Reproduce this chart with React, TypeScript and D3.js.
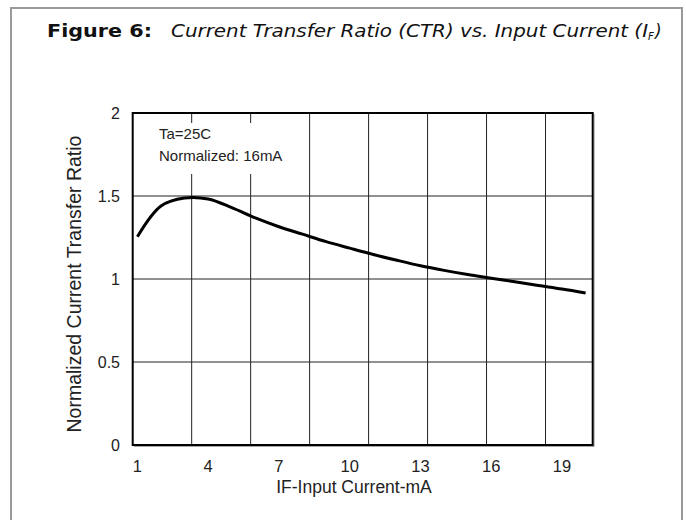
import React from 'react';
import * as d3 from 'd3';

// values
const inputCurrent = [1, 2, 3, 4, 5, 6, 7, 8, 9, 10, 11, 12, 13, 14, 15, 16, 17, 18, 19, 20];
const ctrValues = [
  1.255, 1.44, 1.488, 1.482, 1.43, 1.368, 1.315, 1.27, 1.225, 1.186,
  1.148, 1.113, 1.08, 1.052, 1.027, 1.005, 0.983, 0.961, 0.94, 0.916,
];
const xTickValues = [1, 4, 7, 10, 13, 16, 19];
const yTickValues = [0, 0.5, 1, 1.5, 2];
const yTickLabels = ['0', '0.5', '1', '1.5', '2'];
const xGridValues = [3.3, 5.8, 8.3, 10.8, 13.3, 15.8, 18.3];
const notes = ['Ta=25C', 'Normalized: 16mA'];

const W = 686;
const H = 520;
const plot = { left: 132.7, right: 592.7, top: 113, bottom: 445 };
const font = '"Liberation Sans", Arial, sans-serif';
const titleFont = '"DejaVu Sans", Verdana, sans-serif';

export default function App() {
  const x = d3.scaleLinear().domain([0.8, 20.3]).range([plot.left, plot.right]);
  const y = d3.scaleLinear().domain([0, 2]).range([plot.bottom, plot.top]);

  const line = d3
    .line<number>()
    .x((_, i) => x(inputCurrent[i]))
    .y((d) => y(d))
    .curve(d3.curveCatmullRom.alpha(0.5));

  const pw = plot.right - plot.left;
  const ph = plot.bottom - plot.top;

  return (
    <svg
      width={W}
      height={H}
      style={{ position: 'absolute', left: 0, top: 0, background: '#fff' }}
    >
      {/* outer frame */}
      <rect x={11} y={8} width={671} height={530} fill="none" stroke="#9a9a9a" strokeWidth={2} />

      {/* title */}
      <text
        x={47}
        y={37}
        fontFamily={titleFont}
        fontWeight="bold"
        fontSize={17}
        textLength={105}
        lengthAdjust="spacingAndGlyphs"
        fill="#111"
      >
        Figure 6:
      </text>
      <text
        x={171}
        y={37}
        fontFamily={titleFont}
        fontStyle="italic"
        fontSize={17}
        textLength={477}
        lengthAdjust="spacingAndGlyphs"
        fill="#111"
      >
        Current Transfer Ratio (CTR) vs. Input Current (I
      </text>
      <text x={648} y={40} fontFamily={titleFont} fontStyle="italic" fontSize={10} fill="#111">
        F
      </text>
      <text x={655} y={37} fontFamily={titleFont} fontStyle="italic" fontSize={17} fill="#111">
        )
      </text>

      {/* plot shadow + area */}
      <rect x={plot.left + 1.5} y={plot.top + 1.5} width={pw} height={ph} fill="none" stroke="#aaa" strokeWidth={1} />
      <rect x={plot.left} y={plot.top} width={pw} height={ph} fill="#fff" />

      {/* grid */}
      {xGridValues.map((v) => (
        <line key={'gx' + v} x1={x(v)} x2={x(v)} y1={plot.top} y2={plot.bottom} stroke="#222" strokeWidth={1} />
      ))}
      {yTickValues.slice(1, -1).map((v) => (
        <line key={'gy' + v} x1={plot.left} x2={plot.right} y1={y(v)} y2={y(v)} stroke="#222" strokeWidth={1} />
      ))}

      {/* frame */}
      <rect x={plot.left} y={plot.top} width={pw} height={ph} fill="none" stroke="#000" strokeWidth={2} />

      {/* curve */}
      <path d={line(ctrValues) || ''} fill="none" stroke="#000" strokeWidth={3} strokeLinejoin="round" />

      {/* annotation box covers the grid */}
      <rect x={150} y={123} width={148} height={51} fill="#fff" />
      {notes.map((n, i) => (
        <text key={n} x={159} y={139 + i * 21.5} fontFamily={font} fontSize={15} fill="#222">
          {n}
        </text>
      ))}

      {/* y ticks */}
      {yTickValues.map((v, i) => (
        <text
          key={'yt' + v}
          x={120}
          y={y(v)}
          textAnchor="end"
          dominantBaseline="central"
          fontFamily={font}
          fontSize={16}
          fill="#222"
        >
          {yTickLabels[i]}
        </text>
      ))}

      {/* x ticks */}
      {xTickValues.map((v) => (
        <text key={'xt' + v} x={x(v)} y={472} textAnchor="middle" fontFamily={font} fontSize={16.5} fill="#222">
          {v}
        </text>
      ))}

      {/* axis titles */}
      <text x={354} y={493} textAnchor="middle" fontFamily={font} fontSize={17.5} fill="#222">
        IF-Input Current-mA
      </text>
      <text
        transform={`translate(81,284) rotate(-90)`}
        textAnchor="middle"
        fontFamily={font}
        fontSize={19.5}
        fill="#222"
      >
        Normalized Current Transfer Ratio
      </text>
    </svg>
  );
}
